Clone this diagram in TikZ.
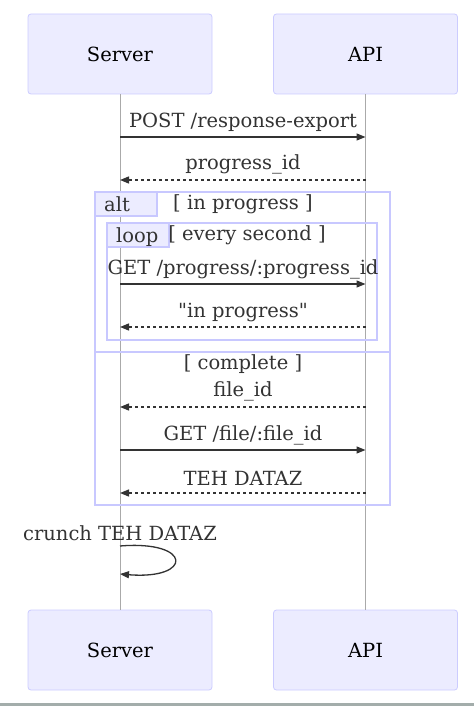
\documentclass[tikz,border=0pt]{standalone}
\usepackage{fontspec}
\newfontfamily\dvserif{DejaVu Serif}
\usetikzlibrary{arrows.meta}
\definecolor{actfill}{HTML}{ECECFF}
\definecolor{actdraw}{HTML}{CCCCFF}
\definecolor{framedraw}{HTML}{C8C8FF}
\definecolor{txt}{HTML}{333333}
\definecolor{lifeln}{HTML}{AAAAAA}
\definecolor{barcol}{HTML}{A3ADAB}
\tikzset{
  actor/.style={draw=actdraw, fill=actfill, rounded corners=3pt, minimum width=184pt, minimum height=80pt, inner sep=0pt, line width=0.8pt, font=\dvserif\fontsize{19.5}{23}\selectfont, text=black},
  msgtxt/.style={font=\dvserif\fontsize{19.5}{23}\selectfont, text=txt, inner sep=0pt},
  msg/.style={draw=txt, line width=1.3pt, -{Triangle[length=9pt,width=7pt]}},
  reply/.style={msg, dash pattern=on 3pt off 3pt},
  lifeline/.style={draw=lifeln, line width=0.7pt},
  framebox/.style={draw=framedraw, line width=1.6pt},
  labbox/.style={draw=framedraw, fill=actfill, line width=1.2pt},
}
\begin{document}
\begin{tikzpicture}[x=1pt,y=-1pt]
\useasboundingbox (0,0) rectangle (474,706);
\fill[white] (0,0) rectangle (474,706);
\fill[barcol] (0,703) rectangle (474,706);
% actors
\node[actor] (s1) at (120,54) {Server};
\node[actor] (a1) at (365.5,54) {API};
\node[actor] (s2) at (120,650) {Server};
\node[actor] (a2) at (365.5,650) {API};
\draw[lifeline] (s1.south) -- (s2.north);
\draw[lifeline] (a1.south) -- (a2.north);
% frames
\draw[framebox] (95,192) rectangle (390,505);
\draw[labbox] (95,192) -- (157,192) -- (157,216) -- (95,216) -- cycle;
\node[msgtxt, anchor=base west] (altl) at (104,211) {alt};
\node[msgtxt] (cond1) at (243,204) {[ in progress ]};
\draw[framebox] (107,223) rectangle (377,340);
\draw[labbox] (107,223) -- (169,223) -- (169,247) -- (107,247) -- cycle;
\node[msgtxt, anchor=base west] (loopl) at (116,242) {loop};
\node[msgtxt] (cond2) at (247,235) {[ every second ]};
\draw[framebox] (95,352) -- (390,352);
\node[msgtxt] (cond3) at (243,364) {[ complete ]};
% message coordinates
\foreach \n/\y in {m1/137, m2/180, m3/284, m4/327, m5/407, m6/450, m7/493} {
  \coordinate (\n s) at (120,\y);
  \coordinate (\n a) at (365.5,\y);
}
\node[msgtxt] (l1) at (243,122) {POST /response-export};
\draw[msg] (m1s) -- (m1a);
\node[msgtxt] (l2) at (243,164) {progress\_id};
\draw[reply] (m2a) -- (m2s);
\node[msgtxt] (l3) at (243,269) {GET /progress/:progress\_id};
\draw[msg] (m3s) -- (m3a);
\node[msgtxt] (l4) at (243,312) {"in progress"};
\draw[reply] (m4a) -- (m4s);
\node[msgtxt] (l5) at (243,391) {file\_id};
\draw[reply] (m5a) -- (m5s);
\node[msgtxt] (l6) at (243,435) {GET /file/:file\_id};
\draw[msg] (m6s) -- (m6a);
\node[msgtxt] (l7) at (243,478) {TEH DATAZ};
\draw[reply] (m7a) -- (m7s);
% self message
\node[msgtxt] (l8) at (120,533) {crunch TEH DATAZ};
\coordinate (c1) at (120,546);
\coordinate (c2) at (120,574);
\draw[msg] (c1) .. controls (193,540) and (193,580) .. (c2);
\end{tikzpicture}
\end{document}
